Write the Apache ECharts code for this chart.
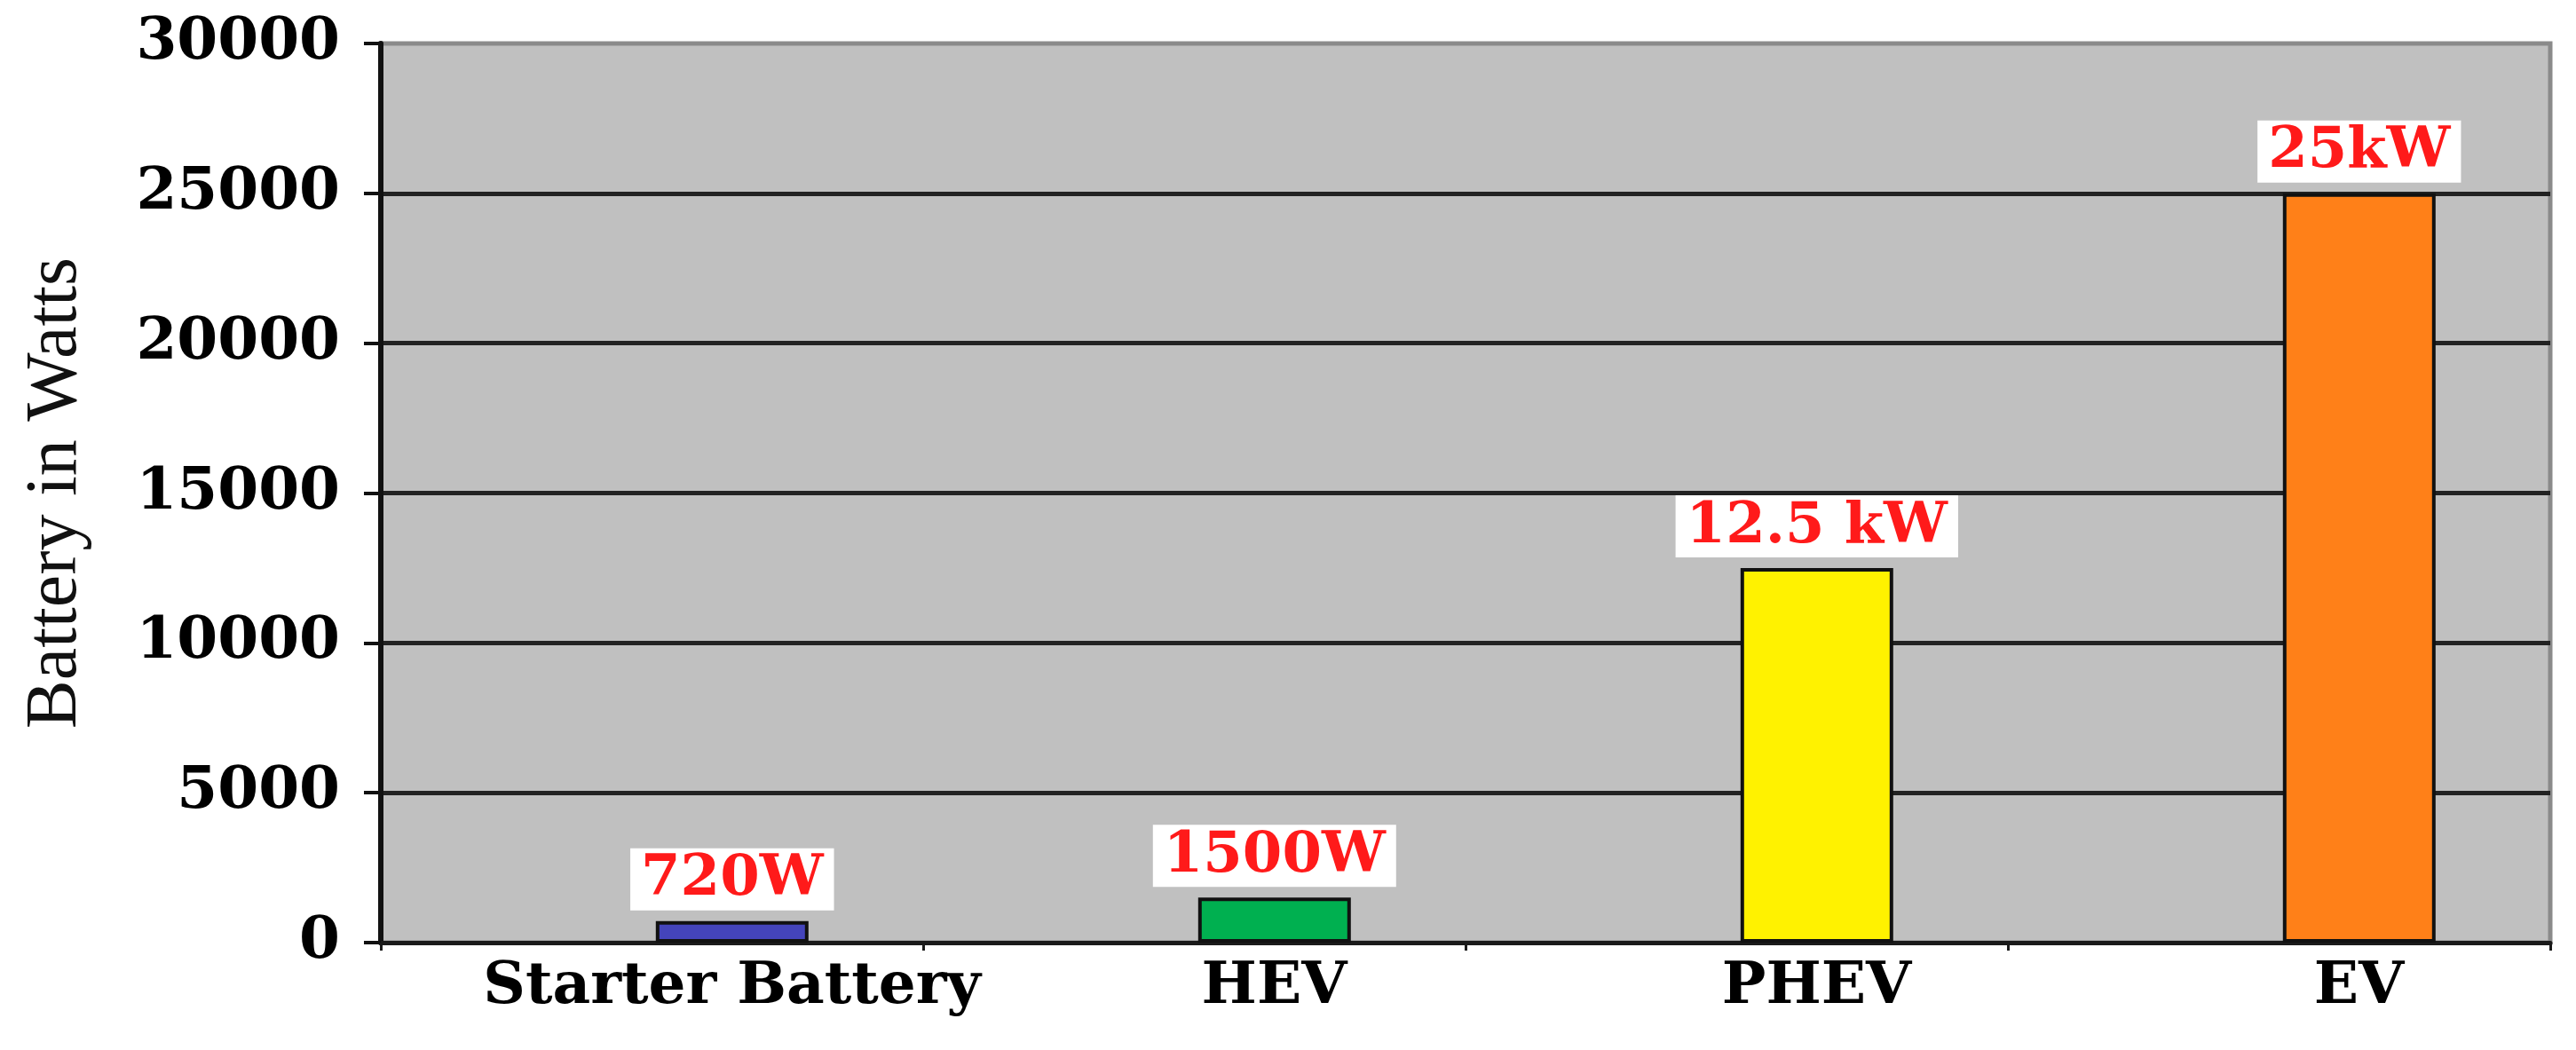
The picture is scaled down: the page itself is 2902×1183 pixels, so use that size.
<!DOCTYPE html>
<html>
<head>
<meta charset="utf-8">
<script src="https://cdn.jsdelivr.net/npm/echarts@6/dist/echarts.min.js"></script>
<style>
  html, body { margin: 0; padding: 0; background: #fff; }
  #chart { width: 2902px; height: 1183px; }
</style>
</head>
<body>
<div id="chart"></div>
<script>
// data
const categories = ["Starter Battery", "HEV", "PHEV", "EV"];
const watts = [720, 1500, 12500, 25000];
const valueLabels = ["720W", "1500W", "12.5 kW", "25kW"];

const barColors = ["#4444bb", "#00b050", "#fff200", "#ff8018"];
const serif = "DejaVu Serif";

const chart = echarts.init(document.getElementById("chart"));

chart.setOption({
  backgroundColor: "#ffffff",
  animation: false,
  grid: {
    left: 429,
    right: 29,
    top: 49,
    bottom: 121,
    show: true,
    backgroundColor: "#c0c0c0",
    borderColor: "#8a8a8a",
    borderWidth: 5,
  },
  xAxis: {
    type: "category",
    data: categories,
    axisLine: { lineStyle: { color: "#1a1a1a", width: 5 } },
    axisTick: { show: true, length: 9, lineStyle: { color: "#1a1a1a", width: 3 } },
    axisLabel: {
      interval: 0,
      margin: 18,
      // labels sit under the bars, which are shifted right inside each band
      padding: [0, 0, 0, 180],
      color: "#000",
      fontFamily: serif,
      fontWeight: "bold",
      fontSize: 66,
    },
  },
  yAxis: {
    type: "value",
    min: 0,
    max: 30000,
    interval: 5000,
    name: "Battery in Watts",
    nameLocation: "middle",
    nameGap: 325,
    nameTextStyle: {
      color: "#111",
      fontFamily: "Liberation Serif",
      fontSize: 82,
    },
    axisLine: { show: true, lineStyle: { color: "#111", width: 6 } },
    axisTick: { show: true, length: 19, lineStyle: { color: "#111", width: 4 } },
    axisLabel: {
      margin: 46,
      color: "#000",
      fontFamily: serif,
      fontWeight: "bold",
      fontSize: 66,
      formatter: (v) => String(v),
    },
    splitLine: {
      show: true,
      showMaxLine: false,
      lineStyle: { color: "#222", width: 5 },
    },
  },
  series: [
    {
      // empty slot that pushes the real bars to the right half of each band
      name: "spacer",
      type: "bar",
      barWidth: 172,
      barGap: "5%",
      data: [],
      silent: true,
    },
    {
      name: "Battery in Watts",
      type: "bar",
      barWidth: 172,
      barGap: "5%",
      data: watts,
      itemStyle: {
        color: (p) => barColors[p.dataIndex],
        borderColor: "#111",
        borderWidth: 4,
      },
      label: {
        show: true,
        position: "top",
        distance: 12,
        formatter: (p) => valueLabels[p.dataIndex],
        color: "#ff1a1a",
        fontFamily: serif,
        fontWeight: "bold",
        fontSize: 64,
        lineHeight: 62,
        backgroundColor: "#ffffff",
        padding: [5, 12, 3, 12],
      },
    },
  ],
});
</script>
</body>
</html>
